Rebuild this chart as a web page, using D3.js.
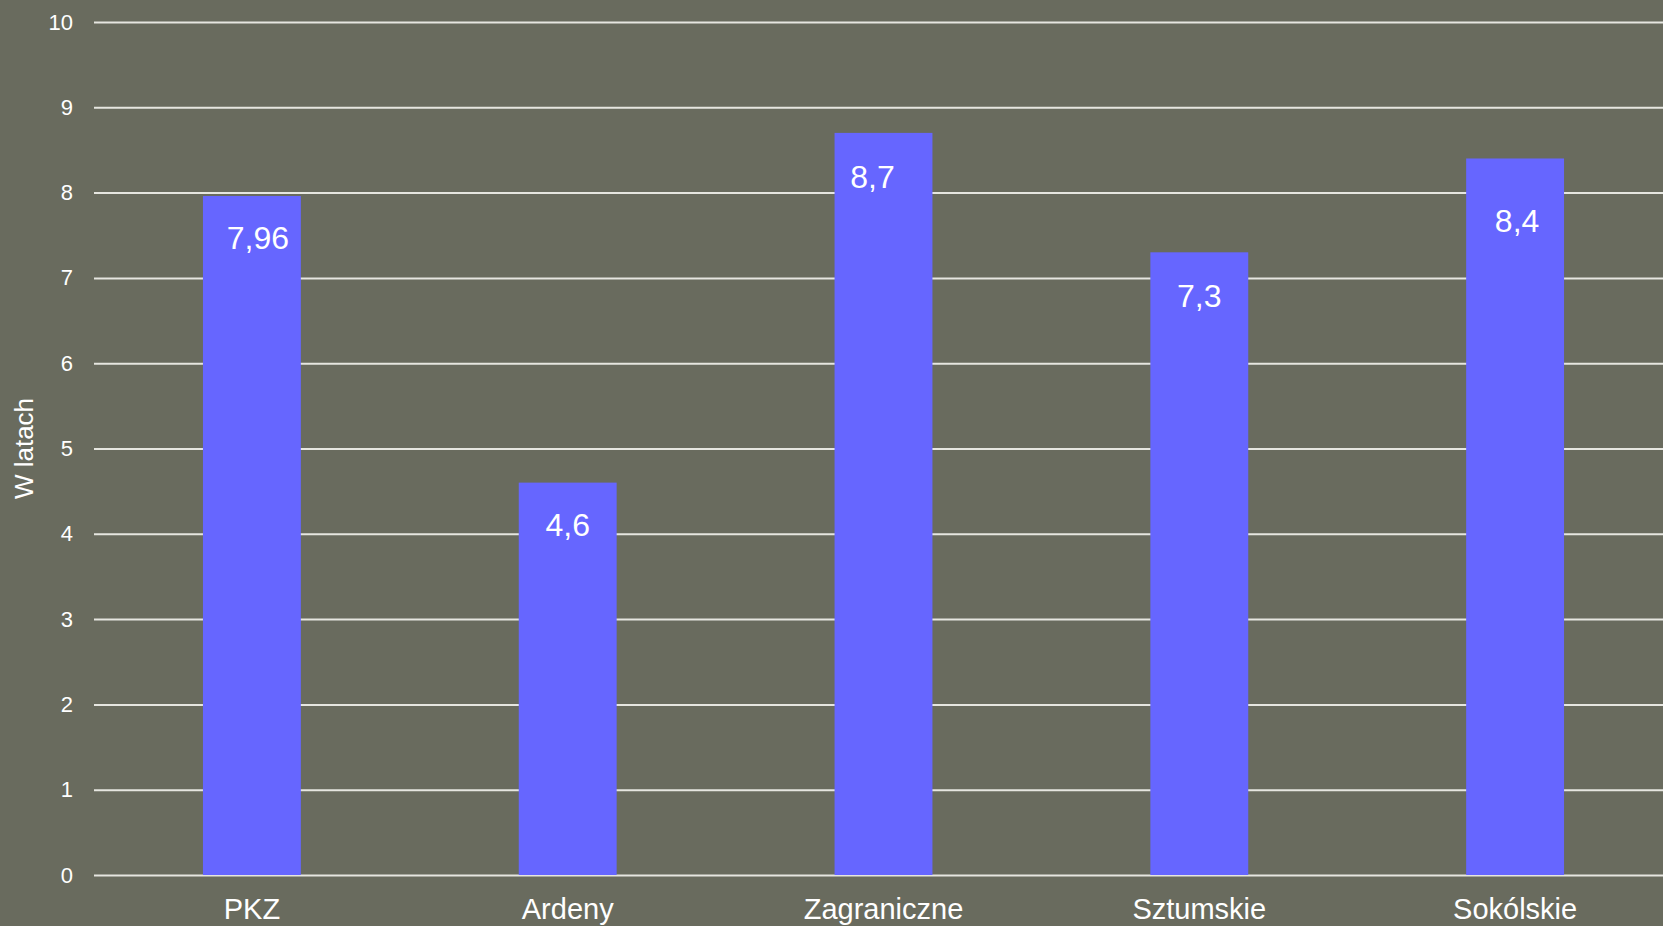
<!DOCTYPE html>
<html>
<head>
<meta charset="utf-8">
<script src="https://cdn.jsdelivr.net/npm/d3@7"></script>
<style>
  html, body { margin: 0; padding: 0; background: #696b5e; overflow: hidden; }
  svg { display: block; font-family: "Liberation Sans", Arial, sans-serif; }
</style>
</head>
<body>
<svg width="1663" height="926"></svg>
<script>
const categories = ['PKZ', 'Ardeny', 'Zagraniczne', 'Sztumskie', 'Sokólskie'];
const values = [7.96, 4.6, 8.7, 7.3, 8.4];
const yTicks = [0, 1, 2, 3, 4, 5, 6, 7, 8, 9, 10];
const yTitle = 'W latach';

// small hand nudges for value labels, as in the original picture
const labelNudge = {
  'PKZ': [6, 0],
  'Zagraniczne': [-11, 2],
  'Sztumskie': [0, 2],
  'Sokólskie': [2, 21]
};

const width = 1663;
const height = 926;
const plotLeft = 94;
const plotTop = 22;
const plotBottom = 875;

const svg = d3.select('body svg');

svg.append('rect')
    .attr('width', width)
    .attr('height', height)
    .attr('fill', '#696b5e');

const x = d3.scaleBand()
    .domain(categories)
    .range([plotLeft, plotLeft + 5 * 315.8])
    .paddingInner(0.69)
    .paddingOuter(0.345);

const y = d3.scaleLinear()
    .domain([0, 10])
    .range([plotBottom, plotTop]);

const formatPl = d => String(d).replace('.', ',');

// gridlines + tick labels
const yAxis = svg.append('g')
    .attr('transform', `translate(${plotLeft}, 0)`)
    .call(d3.axisLeft(y).tickValues(yTicks).tickSize(-(width - plotLeft)).tickPadding(21));

yAxis.select('.domain').remove();
yAxis.selectAll('.tick line')
    .attr('stroke', '#e6e6e0')
    .attr('stroke-width', 2);
yAxis.selectAll('.tick text')
    .attr('fill', '#ffffff')
    .attr('font-size', 22);

const bar = svg.selectAll('.bar').data(categories)
    .enter().append('g')
    .attr('class', 'bar');

bar.append('rect')
    .attr('x', d => x(d))
    .attr('y', (d, i) => y(values[i]))
    .attr('width', x.bandwidth())
    .attr('height', (d, i) => plotBottom - y(values[i]))
    .attr('fill', '#6666ff');

bar.append('text')
    .attr('x', d => x(d) + x.bandwidth() / 2 + (labelNudge[d] ? labelNudge[d][0] : 0))
    .attr('y', (d, i) => y(values[i]) + 53 + (labelNudge[d] ? labelNudge[d][1] : 0))
    .attr('text-anchor', 'middle')
    .attr('fill', '#ffffff')
    .attr('font-size', 32)
    .text((d, i) => formatPl(values[i]));

// category labels
const xAxis = svg.append('g')
    .attr('transform', `translate(0, ${plotBottom})`)
    .call(d3.axisBottom(x).tickSize(0).tickPadding(23));

xAxis.select('.domain').remove();
xAxis.selectAll('.tick text')
    .attr('fill', '#ffffff')
    .attr('font-size', 29);

svg.append('text')
    .attr('transform', `translate(33, ${(plotTop + plotBottom) / 2}) rotate(-90)`)
    .attr('text-anchor', 'middle')
    .attr('fill', '#ffffff')
    .attr('font-size', 26)
    .text(yTitle);
</script>
</body>
</html>
